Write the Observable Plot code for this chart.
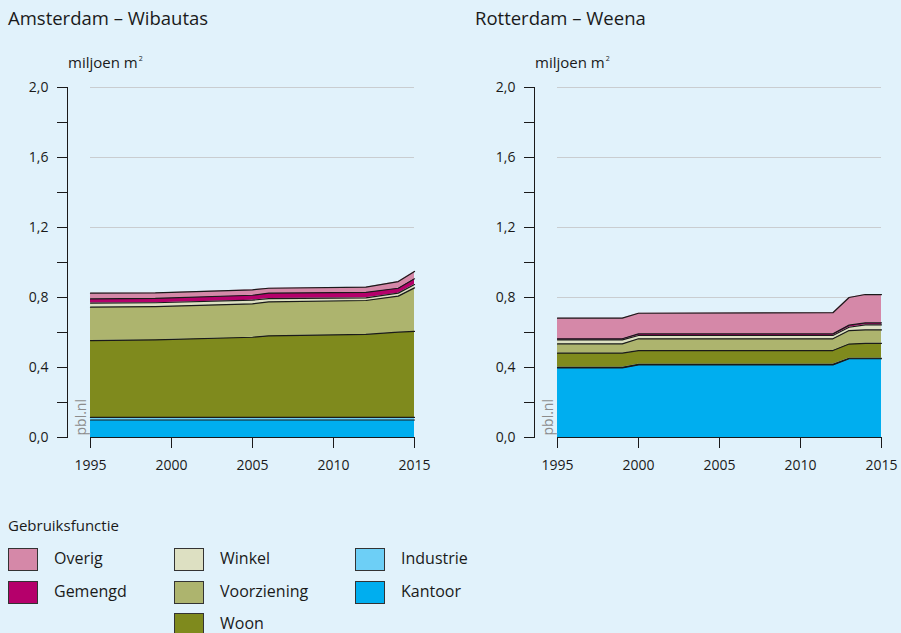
<!DOCTYPE html>
<html>
<head>
<meta charset="utf-8">
<script src="https://cdn.jsdelivr.net/npm/d3@7"></script>
<script src="https://cdn.jsdelivr.net/npm/@observablehq/plot@0.6"></script>
<style>
  html, body { margin: 0; padding: 0; background: #e1f2fb; }
  body { width: 901px; height: 633px; position: relative; overflow: hidden; font-family: "Open Sans", sans-serif; color: #1a1a1a; }
  .title { position: absolute; font-size: 18.5px; top: 5px; white-space: nowrap; }
  .unit { position: absolute; font-size: 15px; top: 52px; white-space: nowrap; }
  .unit sup { font-size: 7px; vertical-align: 7px; margin-left: 1px; }
  .panel { position: absolute; top: 40px; width: 434px; }
  .panel svg { max-width: none; }
  .lg-title { position: absolute; left: 8px; top: 515px; font-size: 15px; }
  .sw { position: absolute; width: 28px; height: 21px; border: 1px solid #333; box-sizing: content-box; }
  .lb { position: absolute; font-size: 16px; white-space: nowrap; }
</style>
</head>
<body>
<div id="root"></div>
<script>
// ---- data ----
const categories = ["Kantoor", "Industrie", "Woon", "Voorziening", "Winkel", "Gemengd", "Overig"];
const colors = ["#00aeef", "#6dcff6", "#7f8a1d", "#adb46e", "#dde0c2", "#b5006b", "#d588a8"];

const amsYears = [1995, 1999, 2005, 2006, 2012, 2014, 2015];
const amsKantoor     = [0.100, 0.100, 0.100, 0.100, 0.100, 0.100, 0.100];
const amsIndustrie   = [0.015, 0.015, 0.015, 0.015, 0.015, 0.015, 0.015];
const amsWoon        = [0.439, 0.443, 0.458, 0.466, 0.474, 0.487, 0.491];
const amsVoorziening = [0.191, 0.190, 0.191, 0.194, 0.194, 0.206, 0.249];
const amsWinkel      = [0.023, 0.022, 0.021, 0.019, 0.015, 0.017, 0.019];
const amsGemengd     = [0.024, 0.025, 0.028, 0.031, 0.031, 0.028, 0.033];
const amsOverig      = [0.033, 0.031, 0.031, 0.028, 0.030, 0.038, 0.042];

const rotYears = [1995, 1999, 2000, 2012, 2013, 2014, 2015];
const rotKantoor     = [0.398, 0.398, 0.415, 0.415, 0.450, 0.450, 0.450];
const rotIndustrie   = [0.003, 0.003, 0.003, 0.003, 0.003, 0.003, 0.003];
const rotWoon        = [0.081, 0.081, 0.078, 0.079, 0.081, 0.085, 0.085];
const rotVoorziening = [0.053, 0.053, 0.068, 0.067, 0.077, 0.077, 0.077];
const rotWinkel      = [0.023, 0.023, 0.019, 0.019, 0.019, 0.029, 0.029];
const rotGemengd     = [0.006, 0.006, 0.009, 0.009, 0.012, 0.011, 0.011];
const rotOverig      = [0.118, 0.118, 0.118, 0.121, 0.158, 0.162, 0.162];

const yTicks = [0, 0.2, 0.4, 0.6, 0.8, 1.0, 1.2, 1.4, 1.6, 1.8, 2.0];
const yLabelTicks = [0, 0.4, 0.8, 1.2, 1.6, 2.0];
const yGrid = [0.4, 0.8, 1.2, 1.6, 2.0];
const xTicks = [1995, 2000, 2005, 2010, 2015];

const panelTitles = ["Amsterdam – Wibautas", "Rotterdam – Weena"];
const unitLabel = "miljoen m";
const legendTitle = "Gebruiksfunctie";
const legendColumns = [["Overig", "Gemengd"], ["Winkel", "Voorziening", "Woon"], ["Industrie", "Kantoor"]];

// ---- build ----
function rows(years, series) {
  const out = [];
  categories.forEach((c, i) => years.forEach((y, j) => out.push({year: y, cat: c, value: series[i][j]})));
  return out;
}
const amsData = rows(amsYears, [amsKantoor, amsIndustrie, amsWoon, amsVoorziening, amsWinkel, amsGemengd, amsOverig]);
const rotData = rows(rotYears, [rotKantoor, rotIndustrie, rotWoon, rotVoorziening, rotWinkel, rotGemengd, rotOverig]);

const fmt = d => yLabelTicks.some(t => Math.abs(t - d) < 1e-9) ? d.toFixed(1).replace(".", ",") : "";

function chart(data) {
  return Plot.plot({
    width: 434, height: 440,
    marginLeft: 90, marginRight: 20, marginTop: 47, marginBottom: 43,
    style: {background: "transparent", fontFamily: "Open Sans", fontSize: "14px", color: "#1a1a1a"},
    x: {domain: [1995, 2015]},
    y: {domain: [0, 2]},
    color: {domain: categories, range: colors},
    marks: [
      Plot.gridY(yGrid, {stroke: "#c9cdd0", strokeOpacity: 1, strokeWidth: 1}),
      Plot.areaY(data, {x: "year", y: "value", z: "cat", fill: "cat", order: categories}),
      Plot.lineY(data, Plot.stackY2({x: "year", y: "value", z: "cat", order: categories, stroke: "#1a1a1a", strokeWidth: 1.2})),
      Plot.frame({anchor: "left", dx: -23, stroke: "#1a1a1a"}),
      Plot.axisY({ticks: yTicks, tickSize: 10, tickPadding: 9, dx: -23, tickFormat: fmt, label: null, stroke: "#1a1a1a"}),
      Plot.frame({anchor: "bottom", stroke: "#1a1a1a"}),
      Plot.axisX({ticks: xTicks, tickSize: 11, tickPadding: 12, tickFormat: d => String(d), label: null, stroke: "#1a1a1a"}),
      Plot.text(["pbl.nl"], {frameAnchor: "bottom-left", rotate: -90, dx: -5, dy: -2, textAnchor: "start", lineAnchor: "bottom", fill: "#8c8c8c", fontSize: 14})
    ]
  });
}

const root = document.getElementById("root");
[amsData, rotData].forEach((d, i) => {
  const off = i * 467;
  const t = document.createElement("div");
  t.className = "title"; t.style.left = (8 + off) + "px"; t.textContent = panelTitles[i];
  root.appendChild(t);
  const u = document.createElement("div");
  u.className = "unit"; u.style.left = (68 + off) + "px";
  u.innerHTML = unitLabel + "<sup>2</sup>";
  root.appendChild(u);
  const p = document.createElement("div");
  p.className = "panel"; p.style.left = off + "px";
  p.appendChild(chart(d));
  root.appendChild(p);
});

const lt = document.createElement("div");
lt.className = "lg-title"; lt.textContent = legendTitle;
root.appendChild(lt);
const colX = [8, 174, 355];
const rowY = [548, 581, 613];
legendColumns.forEach((col, ci) => col.forEach((name, ri) => {
  const s = document.createElement("div");
  s.className = "sw";
  s.style.left = colX[ci] + "px"; s.style.top = rowY[ri] + "px";
  s.style.background = colors[categories.indexOf(name)];
  root.appendChild(s);
  const l = document.createElement("div");
  l.className = "lb";
  l.style.left = (colX[ci] + 46) + "px"; l.style.top = (rowY[ri] - 1) + "px";
  l.textContent = name;
  root.appendChild(l);
}));
</script>
</body>
</html>
